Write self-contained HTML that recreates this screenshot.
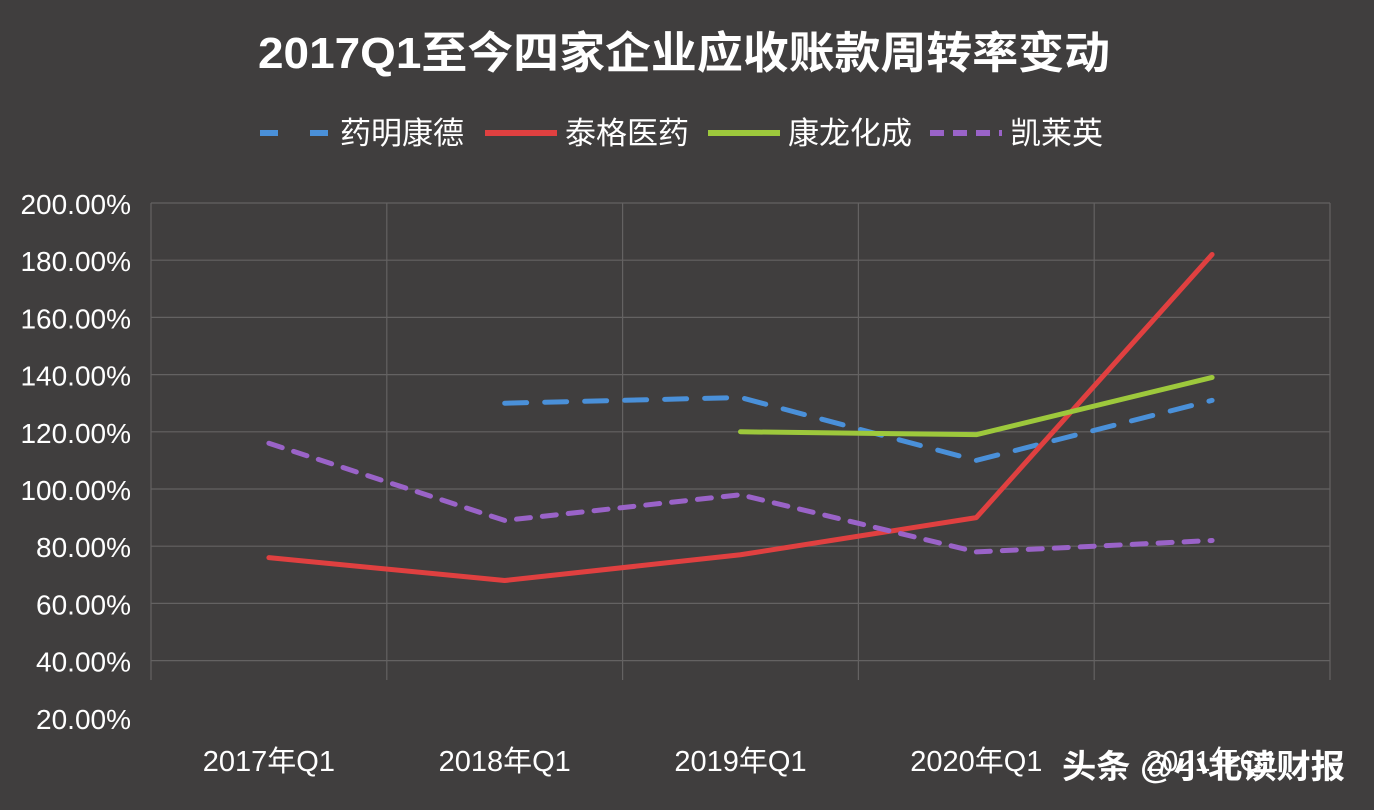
<!DOCTYPE html>
<html><head><meta charset="utf-8"><style>
body{margin:0;background:#403e3e;}
svg{display:block;font-family:"Liberation Sans","Noto Sans CJK SC",sans-serif;}
</style></head><body>
<svg id="chart" width="1374" height="810" viewBox="0 0 1374 810">
<rect width="1374" height="810" fill="#403e3e"/>
<text x="684" y="68" text-anchor="middle" fill="#fff" font-size="44" font-weight="bold" textLength="852" lengthAdjust="spacingAndGlyphs">2017Q1至今四家企业应收账款周转率变动</text>
<g id="grid"></g><g id="axes"></g><g id="series"></g><g id="legend"></g>
<text x="1062" y="778" fill="#fff" font-size="33" font-weight="bold" textLength="283" lengthAdjust="spacingAndGlyphs">头条 @小北读财报</text>
</svg>
<script>
const categories=["2017年Q1","2018年Q1","2019年Q1","2020年Q1","2021年Q1"];
const yTicks=[20,40,60,80,100,120,140,160,180,200];
const seriesNames=["药明康德","泰格医药","康龙化成","凯莱英"];
const wuxi=[null,130,132,110,131];
const tigermed=[76,68,77,90,182];
const pharmaron=[null,null,120,119,139];
const asymchem=[116,89,98,78,82];
const seriesValues=[wuxi,tigermed,pharmaron,asymchem];
const colors=["#4a90d9","#e04040","#9dc83c","#9a63c8"];
const dashes=["22 18","","","14 12"];
const NS="http://www.w3.org/2000/svg";
const L=151,R=1330,bw=(R-L)/categories.length;
const x=i=>L+bw*(i+0.5);
const y=v=>203+(200-v)*2.86;
function mk(t,a,p){const e=document.createElementNS(NS,t);for(const k in a)e.setAttribute(k,a[k]);p.appendChild(e);return e;}
const grid=document.getElementById('grid'),axes=document.getElementById('axes'),ser=document.getElementById('series'),leg=document.getElementById('legend');
yTicks.forEach(v=>{
 if(v>=40){const g=mk('line',{x1:L,x2:R,y1:y(v),y2:y(v),stroke:'#646262','stroke-width':1.2},grid);
 
 }
 const t=mk('text',{x:131,y:y(v)+11,'text-anchor':'end',fill:'#fff','font-size':28},axes);t.textContent=v.toFixed(2)+'%';
 
 
});
for(let i=0;i<=categories.length;i++){const g=mk('line',{x1:L+bw*i,x2:L+bw*i,y1:203,y2:680,stroke:'#646262','stroke-width':1.2},grid);
 
 }
categories.forEach((c,i)=>{const t=mk('text',{x:x(i),y:771,'text-anchor':'middle',fill:'#fff','font-size':29},axes);t.textContent=c;
 
 });
seriesValues.forEach((vals,s)=>{
 let d='';vals.forEach((v,i)=>{if(v==null)return;d+=(d?'L':'M')+x(i)+','+y(v);});
 const p=mk('path',{d:d,fill:'none',stroke:colors[s],'stroke-width':5,'stroke-linecap':'round','stroke-linejoin':'round'},ser);
 if(dashes[s])p.setAttribute('stroke-dasharray',dashes[s]);
 
 
});
const lx=[260,485,708,930];
seriesNames.forEach((n,s)=>{
 const l=mk('line',{x1:lx[s],x2:lx[s]+72,y1:133,y2:133,stroke:colors[s],'stroke-width':6},leg);
 if(dashes[s])l.setAttribute('stroke-dasharray',s==0?'18 32':'14 9');
 
 
 const t=mk('text',{x:lx[s]+80,y:144,fill:'#fff','font-size':31},leg);t.textContent=n;
 
 
});
</script>
</body></html>
